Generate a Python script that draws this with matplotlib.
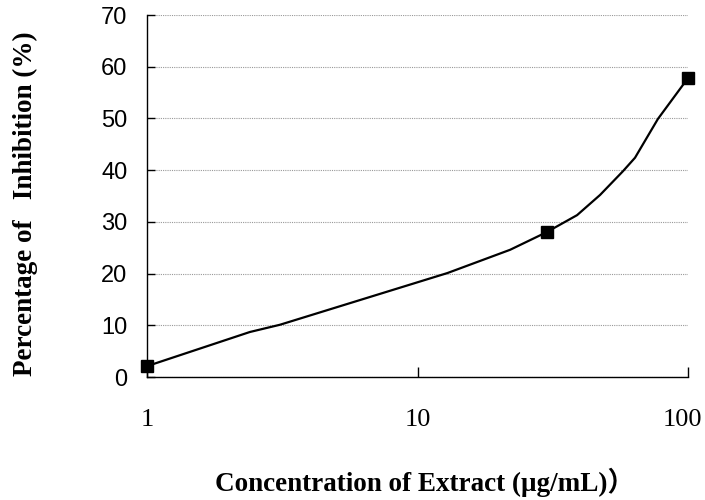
import matplotlib
matplotlib.use("Agg")
import matplotlib.pyplot as plt
from matplotlib.ticker import FixedLocator, NullLocator
from matplotlib.transforms import ScaledTranslation

# measured points (markers)
conc = [1, 30, 100]
inhibition = [2.1, 28.0, 57.8]

# smoothed curve
curve_conc = [1, 2.4, 3.1, 12.9, 22.0, 30, 38.9, 47.3, 57.5, 63.7, 77.4, 100]
curve_inh = [2.1, 8.7, 10.1, 20.1, 24.6, 28.0, 31.3, 35.2, 39.8, 42.4, 49.9, 57.8]

y_ticks = [0, 10, 20, 30, 40, 50, 60, 70]
x_ticks = [1, 10, 100]
x_tick_labels = ["1", "10", "100"]

fig = plt.figure(figsize=(7.05, 5.0), dpi=100)
ax = fig.add_axes([147 / 705, 1 - 377 / 500, (688 - 147) / 705, (377 - 15) / 500])

ax.plot(curve_conc, curve_inh, color="black", linewidth=1.6, zorder=3)
ax.plot(conc, inhibition, linestyle="none", marker="s", markersize=9,
        color="black", clip_on=False, zorder=4)

ax.set_xscale("log")
ax.set_xlim(1, 100)
ax.set_ylim(0, 70)

ax.xaxis.set_major_locator(FixedLocator(x_ticks))
ax.xaxis.set_minor_locator(NullLocator())
ax.set_xticklabels(x_tick_labels, fontfamily="Liberation Serif", fontsize=19)
ax.set_yticks(y_ticks)
ax.set_yticklabels([str(v) for v in y_ticks], fontfamily="Liberation Sans", fontsize=17)

ax.tick_params(axis="x", direction="in", length=7, width=1, pad=23)
ax.tick_params(axis="y", direction="in", length=6, width=1, pad=14)

# the last label sits a little left so it stays inside the picture
last = ax.get_xticklabels()[-1]
last.set_transform(last.get_transform() + ScaledTranslation(-6 / 100, 0, fig.dpi_scale_trans))

ax.grid(axis="y", color="#999999", linestyle=(0, (1, 1)), linewidth=0.8)
ax.set_axisbelow(True)
for side in ["top", "right"]:
    ax.spines[side].set_visible(False)
for side in ["left", "bottom"]:
    ax.spines[side].set_linewidth(1.0)

fig.text(425 / 705, 1 - 482 / 500, "Concentration of Extract (μg/mL)）",
         ha="center", va="center", fontsize=19.5, fontweight="bold",
         family=["Liberation Serif", "Noto Sans CJK JP"])
fig.text(25 / 705, 1 - 204 / 500, "Percentage of   Inhibition (%)",
         ha="center", va="center", rotation=90, fontsize=19.5, fontweight="bold",
         fontfamily="Liberation Serif")

fig.savefig("out.png", dpi=100)
